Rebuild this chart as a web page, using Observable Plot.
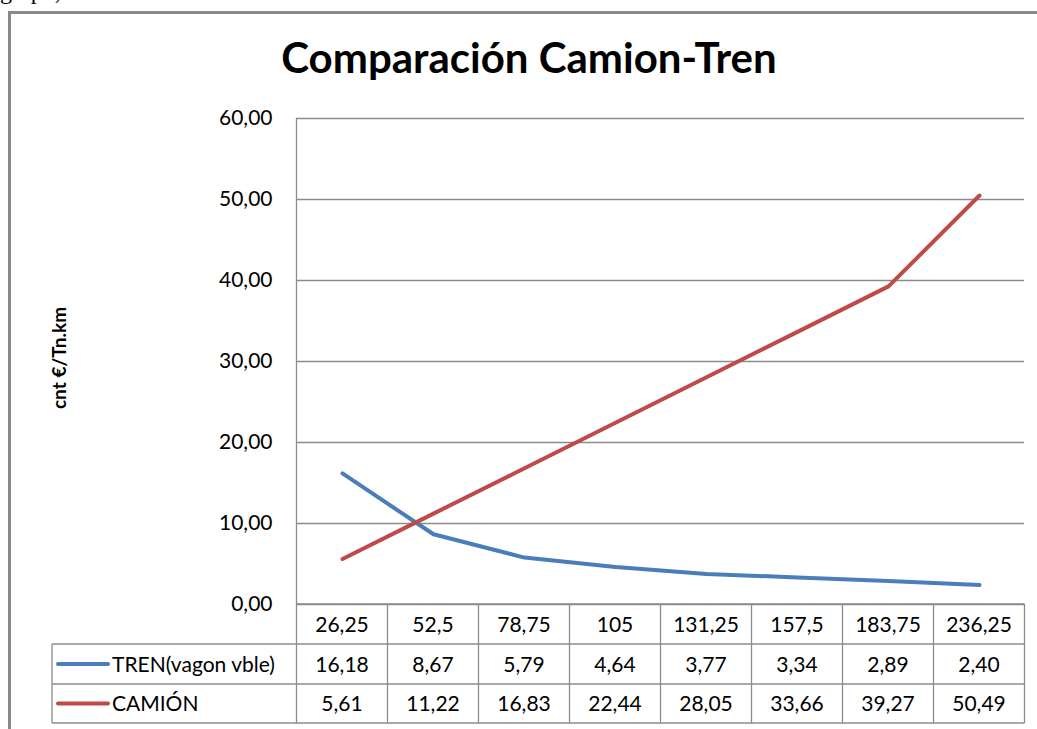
<!DOCTYPE html>
<html>
<head>
<meta charset="utf-8">
<script src="https://cdn.jsdelivr.net/npm/d3@7"></script>
<script src="https://cdn.jsdelivr.net/npm/@observablehq/plot@0.6"></script>
<style>
  html, body { margin: 0; padding: 0; background: #fff; width: 1037px; height: 729px; overflow: hidden; }
  #wrap { position: relative; width: 1037px; height: 729px; }
  #frame { position: absolute; left: 8px; top: 11px; width: 1100px; height: 800px;
           border-left: 3px solid #8a8a8a; border-top: 3px solid #8a8a8a; }
  #frag { position: absolute; left: 0px; top: -22px; font-family: "Liberation Serif", serif; font-size: 24px; color: #000; }
  #title { position: absolute; left: 0; width: 1058px; top: 36px; text-align: center;
           font-family: Lato, sans-serif; font-weight: bold; font-size: 42px; color: #000; line-height: 1; }
  #ylab { position: absolute; left: 58px; top: 358px; transform: translate(-50%, -50%) rotate(-90deg);
          font-family: Lato, sans-serif; font-weight: bold; font-size: 19px; white-space: nowrap; }
  #chart { position: absolute; left: 0; top: 0; }
</style>
</head>
<body>
<div id="wrap">
  <div id="frag">graph,</div>
  <div id="frame"></div>
  <div id="chart"></div>
  <div id="title">Comparación Camion-Tren</div>
  <div id="ylab">cnt €/Tn.km</div>
</div>
<script>
const categories = ["26,25", "52,5", "78,75", "105", "131,25", "157,5", "183,75", "236,25"];
const trenValues = [16.18, 8.67, 5.79, 4.64, 3.77, 3.34, 2.89, 2.40];
const camionValues = [5.61, 11.22, 16.83, 22.44, 28.05, 33.66, 39.27, 50.49];
const seriesNames = ["TREN(vagon vble)", "CAMIÓN"];
const seriesColors = ["#4a7ebb", "#be4b48"];
const yTicks = [0, 10, 20, 30, 40, 50, 60];

const fmt = d => d.toFixed(2).replace(".", ",");

const rows = [];
categories.forEach((c, i) => {
  rows.push({cat: c, value: trenValues[i], series: seriesNames[0]});
});
categories.forEach((c, i) => {
  rows.push({cat: c, value: camionValues[i], series: seriesNames[1]});
});

const W = 1037, H = 729;
const plot = Plot.plot({
  width: W,
  height: H,
  marginLeft: 296,
  marginRight: 13,
  marginTop: 118,
  marginBottom: 125,
  style: {fontFamily: "Lato, sans-serif", fontSize: "21px", background: "transparent", overflow: "visible", color: "#000"},
  x: {type: "point", domain: categories, padding: 0.5, axis: null},
  y: {domain: [0, 60], ticks: yTicks, tickFormat: fmt, label: null, tickSize: 0, tickPadding: 24},
  color: {domain: seriesNames, range: seriesColors},
  marks: [
    Plot.gridY(yTicks, {stroke: "#8c8c8c", strokeOpacity: 1, strokeWidth: 1.3}),
    Plot.line(rows, {x: "cat", y: "value", z: "series", stroke: "series", strokeWidth: 4, strokeLinejoin: "round", strokeLinecap: "round"})
  ]
});
document.getElementById("chart").appendChild(plot);

// Data table under the plot, positioned with the plot's own scales
const xs = plot.scale("x");
const ys = plot.scale("y");
const svg = d3.select(plot);
const centers = categories.map(c => xs.apply(c));
const step = centers[1] - centers[0];
const leftX = centers[0] - step / 2;
const rightX = centers[centers.length - 1] + step / 2;
const topY = ys.apply(60);
const baseY = ys.apply(0);
const rowH = 40;
const r1 = baseY + rowH, r2 = r1 + rowH, r3 = r2 + 39;
const legendLeft = 52;
const g = svg.append("g").attr("stroke", "#8c8c8c").attr("stroke-width", 1.3).attr("fill", "none");
g.append("line").attr("x1", leftX).attr("x2", leftX).attr("y1", topY).attr("y2", r3);
g.append("line").attr("x1", leftX).attr("x2", rightX).attr("y1", baseY).attr("y2", baseY);
[r1, r2, r3].forEach(y => g.append("line").attr("x1", legendLeft).attr("x2", rightX).attr("y1", y).attr("y2", y));
g.append("line").attr("x1", legendLeft).attr("x2", legendLeft).attr("y1", r1).attr("y2", r3);
for (let i = 1; i <= categories.length; i++) {
  const x = leftX + i * step;
  g.append("line").attr("x1", x).attr("x2", x).attr("y1", baseY).attr("y2", r3);
}
const t = svg.append("g").attr("font-family", "Lato, sans-serif").attr("font-size", 21).attr("fill", "#000");
categories.forEach((c, i) => {
  t.append("text").attr("x", centers[i]).attr("y", (baseY + r1) / 2).attr("dy", "0.36em").attr("text-anchor", "middle").text(c);
  t.append("text").attr("x", centers[i]).attr("y", (r1 + r2) / 2).attr("dy", "0.36em").attr("text-anchor", "middle").text(fmt(trenValues[i]));
  t.append("text").attr("x", centers[i]).attr("y", (r2 + r3) / 2).attr("dy", "0.36em").attr("text-anchor", "middle").text(fmt(camionValues[i]));
});
[[r1, r2], [r2, r3]].forEach(([a, b], k) => {
  const yc = (a + b) / 2;
  svg.append("line").attr("x1", 58).attr("x2", 108).attr("y1", yc).attr("y2", yc)
    .attr("stroke", seriesColors[k]).attr("stroke-width", 4).attr("stroke-linecap", "round");
  t.append("text").attr("x", 112).attr("y", yc).attr("dy", "0.36em").attr("text-anchor", "start").text(seriesNames[k]);
});
</script>
</body>
</html>
